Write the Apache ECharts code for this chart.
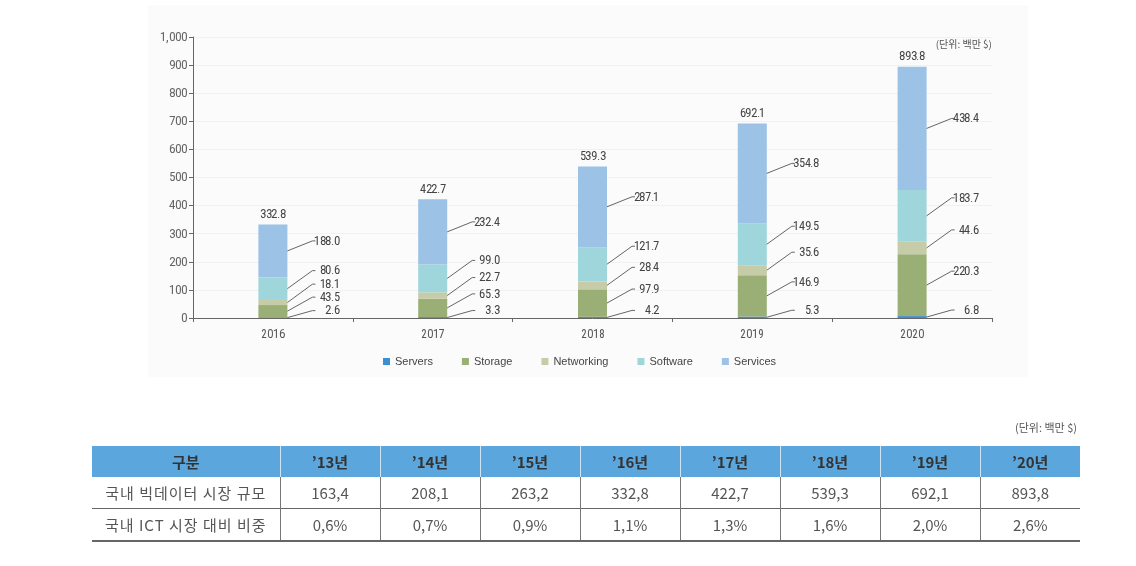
<!DOCTYPE html>
<html>
<head>
<meta charset="utf-8">
<script src="https://cdn.jsdelivr.net/npm/echarts@6/dist/echarts.min.js"></script>
<style>
  @font-face {
    font-family: 'NarrowX';
    src: local('Liberation Sans Narrow'), local('LiberationSansNarrow-Regular'), local('LiberationSansNarrow'),
         local('Arial Narrow'), local('Roboto Condensed'), local('RobotoCondensed-Regular'),
         local('Noto Sans Condensed'), local('NotoSans-Condensed'), local('Noto Sans ExtraCondensed');
  }
  html, body { margin: 0; padding: 0; background: #fff; }
  #wrap { position: relative; width: 1136px; height: 566px; overflow: hidden; }
  #chart { position: absolute; left: 0; top: 0; width: 1136px; height: 566px; }
  #unit2 { position: absolute; right: 59px; top: 419px; font: 11px 'Noto Sans CJK KR', sans-serif; color: #555; }
  table { position: absolute; left: 92px; top: 446px; border-collapse: collapse; table-layout: fixed;
          font-family: 'Noto Sans CJK KR', sans-serif; font-size: 15px; color: #555; }
  th, td { text-align: center; padding: 0; }
  th { background: #5ba7dd; color: #333; font-weight: 600; height: 31px; border-left: 1px solid #cfe5f5; }
  th:first-child { border-left: none; }
  td { height: 31px; border-left: 1px solid #777; }
  td:first-child { border-left: none; letter-spacing: 1px; }
  tr.mid td { border-top: none; }
  tr.last td { border-top: 1px solid #666; border-bottom: 2px solid #666; }
</style>
</head>
<body>
<div id="wrap">
  <div id="chart"></div>
  <div id="unit2">(단위: 백만 $)</div>
  <table id="tbl"></table>
</div>
<script>
// ---- chart data ----
const years = ['2016', '2017', '2018', '2019', '2020'];
const seriesNames = ['Servers', 'Storage', 'Networking', 'Software', 'Services'];
const servers    = [2.6, 3.3, 4.2, 5.3, 6.8];
const storage    = [43.5, 65.3, 97.9, 146.9, 220.3];
const networking = [18.1, 22.7, 28.4, 35.6, 44.6];
const software   = [80.6, 99.0, 121.7, 149.5, 183.7];
const services   = [188.0, 232.4, 287.1, 354.8, 438.4];
const totals     = [332.8, 422.7, 539.3, 692.1, 893.8];

// ---- table data ----
const tableYears   = ['’13년', '’14년', '’15년', '’16년', '’17년', '’18년', '’19년', '’20년'];
const marketSize   = [163.4, 208.1, 263.2, 332.8, 422.7, 539.3, 692.1, 893.8];
const ictShare     = [0.6, 0.7, 0.9, 1.1, 1.3, 1.6, 2.0, 2.6];
const rowLabels    = ['구분', '국내 빅데이터 시장 규모', '국내 ICT 시장 대비 비중'];

const colors = ['#3d8fcf', '#9aaf76', '#c7cca8', '#9fd6dc', '#9cc2e6'];
const valueSets = [servers, storage, networking, software, services];
const BAR_W = 29;
const OFFS = [-7, -14, -18, -18, -10];
const GAP = 13;

// ---- table ----
const fmt = v => v.toFixed(1).replace('.', ',');
const tbl = document.getElementById('tbl');
let html = '<colgroup><col style="width:188px">' + tableYears.map(() => '<col style="width:100px">').join('') + '</colgroup>';
html += '<tr><th>' + rowLabels[0] + '</th>' + tableYears.map(y => '<th>' + y + '</th>').join('') + '</tr>';
html += '<tr class="mid"><td>' + rowLabels[1] + '</td>' + marketSize.map(v => '<td>' + fmt(v) + '</td>').join('') + '</tr>';
html += '<tr class="last"><td>' + rowLabels[2] + '</td>' + ictShare.map(v => '<td>' + fmt(v) + '%</td>').join('') + '</tr>';
tbl.innerHTML = html;

let started = false;
function start() {
  if (started) return;
  started = true;
  const probe = document.createElement('canvas').getContext('2d');
  probe.font = "13px NarrowX, Roboto";
  const wN = probe.measureText('332.8').width;
  const narrowOK = wN < 28.5;
  const FAM = narrowOK ? "NarrowX, Roboto, sans-serif" : "Roboto, sans-serif";
  const textScale = Math.min(1, 25.5 / wN);
  const axisSize = narrowOK ? 13 : 12;

  const chart = echarts.init(document.getElementById('chart'), null, { renderer: 'canvas' });

  const barSeries = seriesNames.map((name, k) => ({
    name: name,
    type: 'bar',
    stack: 'total',
    barWidth: BAR_W,
    data: valueSets[k],
    itemStyle: { color: colors[k] },
    emphasis: { disabled: true },
    silent: true
  }));

  function label(x, y, text, align, vAlign) {
    return {
      type: 'text', x: x, y: y, scaleX: textScale,
      style: { x: 0, y: 0, text: text, align: align, verticalAlign: vAlign,
               font: '13px ' + FAM, fill: '#444' }
    };
  }

  const labelSeries = {
    type: 'custom',
    silent: true,
    z: 10,
    data: years.map((y, i) => [i, totals[i]]),
    encode: { x: 0, y: 1 },
    renderItem: function (params, api) {
      const i = api.value(0);
      const cx = api.coord([i, 0])[0];
      const xr = cx + BAR_W / 2;
      let cum = 0;
      let prev = null;
      const children = [];
      for (let k = 0; k < valueSets.length; k++) {
        const v = valueSets[k][i];
        const yb = api.coord([i, cum])[1];
        const yt = api.coord([i, cum + v])[1];
        cum += v;
        const mid = (yb + yt) / 2;
        let ly = mid + OFFS[k];
        if (prev !== null) ly = Math.min(ly, prev - GAP);
        prev = ly;
        children.push({
          type: 'polyline',
          shape: { points: [[xr, mid], [xr + 25, ly], [xr + 28, ly]] },
          style: { stroke: '#555', lineWidth: 0.9, fill: null }
        });
        children.push(label(xr + 52, ly, v.toFixed(1), 'right', 'middle'));
      }
      const topY = api.coord([i, totals[i]])[1];
      children.push(label(cx, topY - 4, totals[i].toFixed(1), 'center', 'bottom'));
      return { type: 'group', children: children };
    }
  };

  chart.setOption({
    backgroundColor: '#fff',
    animation: false,
    grid: { left: 193, right: 144, top: 37, height: 281 },
    legend: {
      data: seriesNames,
      left: 378, top: 351,
      icon: 'rect', itemWidth: 7, itemHeight: 7, itemGap: 29,
      textStyle: { fontSize: 11, color: '#444', fontFamily: "'Liberation Sans', Arial, sans-serif" },
      selectedMode: false
    },
    graphic: [{
      type: 'rect', left: 148, top: 5, z: -100, silent: true,
      shape: { width: 880, height: 372 },
      style: { fill: '#fbfbfb' }
    }, {
      type: 'text', right: 144, top: 39,
      style: { text: '(단위: 백만 $)', font: "10px 'Noto Sans CJK KR', sans-serif", fill: '#555' }
    }],
    xAxis: {
      type: 'category',
      data: years,
      axisLine: { lineStyle: { color: '#666' } },
      axisTick: { show: true, length: 4, lineStyle: { color: '#666' } },
      axisLabel: { color: '#555', fontSize: axisSize - 1, margin: 10, fontFamily: FAM }
    },
    yAxis: {
      type: 'value',
      min: 0, max: 1000, interval: 100,
      axisLine: { show: true, lineStyle: { color: '#666' } },
      axisTick: { show: true, length: 4, lineStyle: { color: '#666' } },
      splitLine: { lineStyle: { color: '#f1f1f1' } },
      axisLabel: {
        color: '#666', fontSize: axisSize, margin: 6, fontFamily: FAM,
        formatter: v => v.toLocaleString('en-US')
      }
    },
    series: barSeries.concat([labelSeries])
  });
}

const timer = setTimeout(start, 1200);
if (document.fonts && document.fonts.load) {
  document.fonts.load('13px NarrowX').then(
    () => { clearTimeout(timer); start(); },
    () => { clearTimeout(timer); start(); }
  );
} else {
  clearTimeout(timer); start();
}
</script>
</body>
</html>
